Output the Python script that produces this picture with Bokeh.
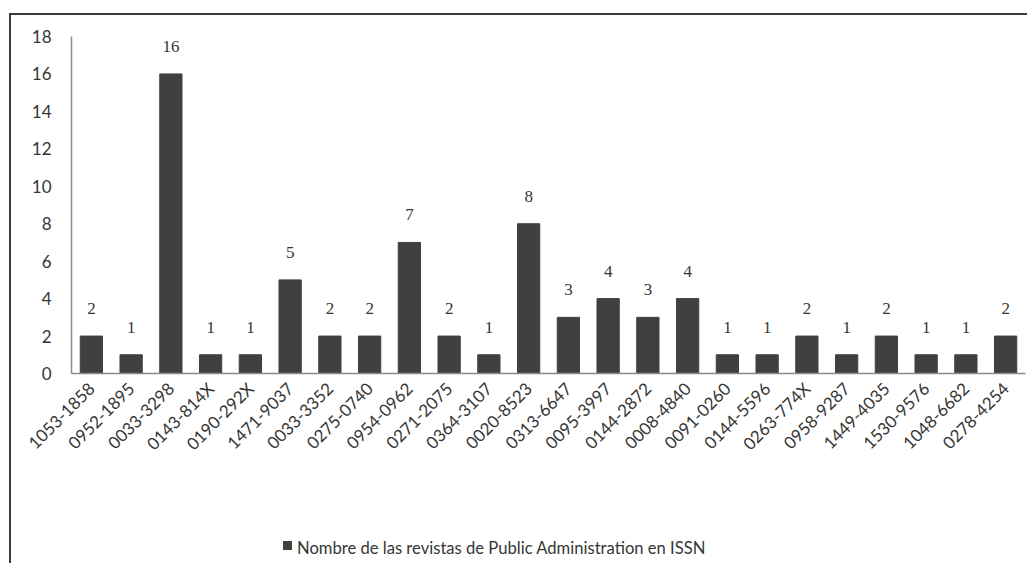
import math
from bokeh.plotting import figure
from bokeh.models import ColumnDataSource, LabelSet, FixedTicker, Div
from bokeh.layouts import column
from bokeh.embed import file_html
from bokeh.resources import INLINE

categories = ["1053-1858", "0952-1895", "0033-3298", "0143-814X", "0190-292X", "1471-9037",
              "0033-3352", "0275-0740", "0954-0962", "0271-2075", "0364-3107", "0020-8523",
              "0313-6647", "0095-3997", "0144-2872", "0008-4840", "0091-0260", "0144-5596",
              "0263-774X", "0958-9287", "1449-4035", "1530-9576", "1048-6682", "0278-4254"]
values = [2, 1, 16, 1, 1, 5, 2, 2, 7, 2, 1, 8, 3, 4, 3, 4, 1, 1, 2, 1, 2, 1, 1, 2]
y_ticks = [0, 2, 4, 6, 8, 10, 12, 14, 16, 18]
series_name = "Nombre de las revistas de Public Administration en ISSN"

FONT = "Lato"
FS = "17px"
TXT = "#363636"
BAR = "#404040"

src = ColumnDataSource(dict(cat=categories, val=values, lab=[str(v) for v in values]))

p = figure(x_range=categories, y_range=(0, 18), width=1016, height=458,
           output_backend="svg", toolbar_location=None,
           min_border_left=60, min_border_right=2, min_border_top=21, min_border_bottom=100)

p.vbar(x="cat", top="val", width=0.56, source=src, fill_color=BAR, line_color=BAR)

labels = LabelSet(x="cat", y="val", text="lab", source=src, text_align="center",
                  text_baseline="alphabetic", y_offset=22, text_font=FONT, text_font_size=FS,
                  text_color=TXT)
p.add_layout(labels)

p.xgrid.visible = False
p.ygrid.visible = False
p.outline_line_color = None
p.background_fill_color = "white"
p.border_fill_color = "white"

p.yaxis.ticker = FixedTicker(ticks=y_ticks)
for ax in (p.xaxis[0], p.yaxis[0]):
    ax.major_tick_line_color = None
    ax.minor_tick_line_color = None
    ax.axis_line_color = "#8a8a8a"
    ax.axis_line_width = 1.5
    ax.major_label_text_font = FONT
    ax.major_label_text_font_size = FS
    ax.major_label_text_color = TXT
p.yaxis.major_label_standoff = 14
p.xaxis.major_label_standoff = 6
p.xaxis.major_label_orientation = math.pi / 4
p.x_range.range_padding = 0

legend_html = (
    '<div style="margin-top:65px; margin-left:272px; white-space:nowrap; '
    'font-family:Lato, sans-serif; font-size:16.6px; color:%s; line-height:20px;">'
    '<span style="display:inline-block; width:9px; height:9px; background:%s; '
    'margin-right:5px; vertical-align:4px;"></span>%s</div>' % (TXT, BAR, series_name)
)
legend_div = Div(text=legend_html, width=1016, height=90, margin=0)

layout = column(p, legend_div, spacing=0,
                styles={"margin-top": "13px", "margin-left": "9px",
                        "border-top": "2px solid #3c3c3c", "border-left": "2px solid #3c3c3c",
                        "background": "white"})

open("out.html", "w").write(file_html(layout, INLINE))
